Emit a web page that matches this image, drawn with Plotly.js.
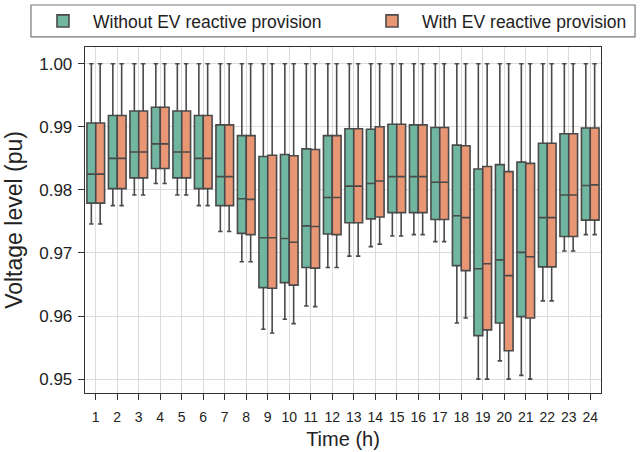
<!DOCTYPE html>
<html>
<head>
<meta charset="utf-8">
<script src="https://cdn.plot.ly/plotly-3.0.1.min.js"></script>
<style>html,body{margin:0;padding:0;background:#fff;}#chart{width:641px;height:452px;}</style>
</head>
<body>
<div id="chart"></div>
<script>
const hours = ["1","2","3","4","5","6","7","8","9","10","11","12","13","14","15","16","17","18","19","20","21","22","23","24"];

// Without EV reactive provision
const noEvUpper  = [1.0,1.0,1.0,1.0,1.0,1.0,1.0,1.0,1.0,1.0,1.0,1.0,1.0,1.0,1.0,1.0,1.0,1.0,1.0,1.0,1.0,1.0,1.0,1.0];
const noEvQ3     = [0.9906,0.9918,0.9925,0.9931,0.9925,0.9918,0.9903,0.9886,0.9853,0.9856,0.9865,0.9886,0.9897,0.9896,0.9904,0.9903,0.9899,0.9871,0.9833,0.9840,0.9844,0.9874,0.9889,0.9898];
const noEvMedian = [0.9825,0.9850,0.9860,0.9873,0.9860,0.9850,0.9821,0.9786,0.9724,0.9723,0.9743,0.9788,0.9806,0.9810,0.9821,0.9821,0.9812,0.9759,0.9675,0.9689,0.9701,0.9756,0.9792,0.9807];
const noEvQ1     = [0.9779,0.9802,0.9819,0.9834,0.9819,0.9802,0.9775,0.9731,0.9645,0.9653,0.9677,0.9730,0.9748,0.9754,0.9764,0.9764,0.9753,0.9680,0.9569,0.9589,0.9599,0.9678,0.9726,0.9752];
const noEvLower  = [0.9746,0.9775,0.9792,0.9810,0.9792,0.9775,0.9734,0.9686,0.9579,0.9595,0.9616,0.9677,0.9695,0.9710,0.9727,0.9729,0.9718,0.9589,0.9500,0.9529,0.9506,0.9624,0.9703,0.9729];

// With EV reactive provision
const evUpper  = [1.0,1.0,1.0,1.0,1.0,1.0,1.0,1.0,1.0,1.0,1.0,1.0,1.0,1.0,1.0,1.0,1.0,1.0,1.0,1.0,1.0,1.0,1.0,1.0];
const evQ3     = [0.9906,0.9918,0.9925,0.9931,0.9925,0.9918,0.9903,0.9886,0.9855,0.9854,0.9864,0.9886,0.9897,0.9900,0.9904,0.9903,0.9899,0.9870,0.9837,0.9829,0.9842,0.9874,0.9889,0.9898];
const evMedian = [0.9825,0.9850,0.9860,0.9873,0.9860,0.9850,0.9821,0.9785,0.9724,0.9717,0.9742,0.9788,0.9806,0.9814,0.9821,0.9821,0.9812,0.9756,0.9683,0.9664,0.9694,0.9756,0.9792,0.9808];
const evQ1     = [0.9779,0.9802,0.9819,0.9834,0.9819,0.9802,0.9775,0.9729,0.9644,0.9649,0.9676,0.9729,0.9748,0.9757,0.9764,0.9764,0.9753,0.9672,0.9578,0.9545,0.9597,0.9678,0.9726,0.9752];
const evLower  = [0.9746,0.9775,0.9792,0.9810,0.9792,0.9775,0.9734,0.9686,0.9573,0.9588,0.9615,0.9677,0.9695,0.9714,0.9727,0.9729,0.9718,0.9597,0.9500,0.9500,0.9500,0.9624,0.9703,0.9729];

const lineCol = "#4a4a4a";
function boxTrace(name, fill, q1, med, q3, lo, hi, legendId) {
  return {
    type: "box", name: name, x: hours,
    q1: q1, median: med, q3: q3, lowerfence: lo, upperfence: hi,
    fillcolor: fill, boxpoints: false,
    line: {color: lineCol, width: 1.6},
    whiskerwidth: 0.5,
    legend: legendId,
    hoverinfo: "skip"
  };
}
const data = [
  boxTrace("Without EV reactive provision", "#71b6a1", noEvQ1, noEvMedian, noEvQ3, noEvLower, noEvUpper, "legend"),
  boxTrace("With EV reactive provision", "#e99675", evQ1, evMedian, evQ3, evLower, evUpper, "legend2")
];
const font = "Liberation Sans, Arial, sans-serif";
const legendBase = {
  orientation: "h", xanchor: "left", y: 1.075, yanchor: "middle",
  bgcolor: "rgba(0,0,0,0)", borderwidth: 0,
  font: {family: font, size: 17.5, color: "#222"},
  itemwidth: 50
};
const layout = {
  width: 641, height: 452,
  margin: {l: 85, r: 40, t: 47, b: 59, autoexpand: false},
  paper_bgcolor: "#fff", plot_bgcolor: "#fff",
  font: {family: font, color: "#222", size: 14},
  boxmode: "group", boxgap: 0.18, boxgroupgap: 0,
  showlegend: true,
  legend: Object.assign({}, legendBase, {x: -0.1008}),
  legend2: Object.assign({}, legendBase, {x: 0.5368}),
  shapes: [{
    type: "rect", xref: "paper", yref: "paper",
    x0: -0.1047, x1: 1.066, y0: 1.029, y1: 1.1214,
    line: {color: "#777", width: 1.2}, fillcolor: "rgba(0,0,0,0)", layer: "below"
  }],
  xaxis: {
    type: "category",
    title: {text: "Time (h)", font: {family: font, size: 20, color: "#222"}, standoff: 8},
    showgrid: true, gridcolor: "#dcdcdc", gridwidth: 1,
    showline: true, linecolor: "#333", linewidth: 1.3, mirror: true,
    ticks: "outside", ticklen: 6, tickcolor: "#333",
    ticklabelstandoff: 5,
    tickfont: {family: font, size: 14, color: "#222"},
    zeroline: false
  },
  yaxis: {
    title: {text: "Voltage level (pu)", font: {family: font, size: 23, color: "#222"}, standoff: 10},
    range: [0.9478, 1.00265],
    tickvals: [0.95,0.96,0.97,0.98,0.99,1.00],
    tickformat: ".2f",
    showgrid: true, gridcolor: "#dcdcdc", gridwidth: 1,
    showline: true, linecolor: "#333", linewidth: 1.3, mirror: true,
    ticks: "outside", ticklen: 6, tickcolor: "#333",
    ticklabelstandoff: 2,
    tickfont: {family: font, size: 17, color: "#222"},
    zeroline: false
  }
};
Plotly.newPlot("chart", data, layout, {displayModeBar: false, staticPlot: true});
</script>
</body>
</html>
